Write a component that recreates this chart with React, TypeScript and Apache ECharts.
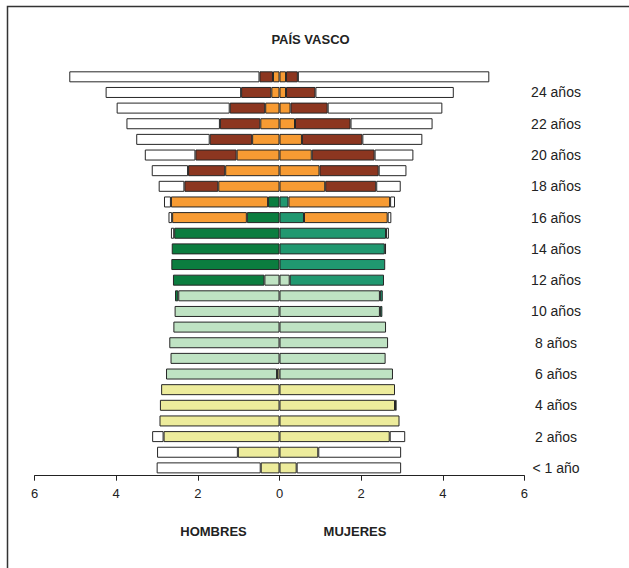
import React, { useEffect, useRef } from "react";
import * as echarts from "echarts";

const ages = [
  "< 1 año", "1 año", "2 años", "3 años", "4 años", "5 años", "6 años", "7 años", "8 años", "9 años",
  "10 años", "11 años", "12 años", "13 años", "14 años", "15 años", "16 años", "17 años", "18 años", "19 años",
  "20 años", "21 años", "22 años", "23 años", "24 años", "25 años",
];

const xTicks = [-6, -4, -2, 0, 2, 4, 6];

// HOMBRES (left side), values by age 0..25
const hYellow = [0.46, 1.02, 2.84, 2.94, 2.93, 2.9, 0.06, 0, 0, 0, 0, 0, 0, 0, 0, 0, 0, 0, 0, 0, 0, 0, 0, 0, 0, 0];
const hLightGreen = [0, 0, 0, 0, 0, 0, 2.72, 2.67, 2.7, 2.6, 2.57, 2.48, 0.37, 0, 0, 0, 0, 0, 0, 0, 0, 0, 0, 0, 0, 0];
const hDarkGreen = [0, 0, 0, 0, 0, 0, 0, 0, 0, 0, 0, 0.08, 2.24, 2.65, 2.64, 2.58, 0.8, 0.28, 0, 0, 0, 0, 0, 0, 0, 0];
const hOrange = [0, 0, 0, 0, 0, 0, 0, 0, 0, 0, 0, 0, 0, 0, 0, 0, 1.83, 2.38, 1.5, 1.33, 1.05, 0.67, 0.47, 0.35, 0.2, 0.16];
const hBrown = [0, 0, 0, 0, 0, 0, 0, 0, 0, 0, 0, 0, 0, 0, 0, 0, 0, 0, 0.83, 0.91, 1.01, 1.04, 0.99, 0.87, 0.74, 0.33];
const hWhite = [2.55, 1.98, 0.28, 0, 0, 0, 0, 0, 0, 0, 0, 0, 0, 0, 0, 0.08, 0.09, 0.17, 0.63, 0.89, 1.24, 1.8, 2.29, 2.77, 3.32, 4.66];

// MUJERES (right side), values by age 0..25
const mYellow = [0.42, 0.95, 2.7, 2.94, 2.83, 2.83, 0, 0, 0, 0, 0, 0, 0, 0, 0, 0, 0, 0, 0, 0, 0, 0, 0, 0, 0, 0];
const mLightGreen = [0, 0, 0, 0, 0.04, 0, 2.78, 2.6, 2.66, 2.61, 2.46, 2.46, 0.25, 0, 0, 0, 0, 0, 0, 0, 0, 0, 0, 0, 0, 0];
const mDarkGreen = [0, 0, 0, 0, 0, 0, 0, 0, 0, 0, 0.06, 0.07, 2.31, 2.59, 2.58, 2.61, 0.6, 0.22, 0, 0, 0, 0, 0, 0, 0, 0];
const mOrange = [0, 0, 0, 0, 0, 0, 0, 0, 0, 0, 0, 0, 0, 0, 0.03, 0, 2.05, 2.49, 1.12, 0.98, 0.79, 0.55, 0.38, 0.27, 0.16, 0.16];
const mBrown = [0, 0, 0, 0, 0, 0, 0, 0, 0, 0, 0, 0, 0, 0, 0, 0, 0, 0, 1.25, 1.45, 1.54, 1.48, 1.36, 0.91, 0.72, 0.29];
const mWhite = [2.56, 2.03, 0.38, 0, 0, 0, 0, 0, 0, 0, 0, 0, 0, 0, 0, 0.07, 0.09, 0.12, 0.6, 0.68, 0.95, 1.47, 2.01, 2.81, 3.39, 4.69];

const FONT = "'Liberation Sans', Arial, Helvetica, sans-serif";

function toSeries(name: string, values: number[], sign: number, color: string) {
  return {
    name,
    type: "bar",
    stack: "total",
    barWidth: 11,
    data: values.map((v) => (v === 0 ? "-" : sign * v)),
    itemStyle: { color, borderColor: "#262626", borderWidth: 1 },
    emphasis: { disabled: true },
  };
}

export default function App() {
  const ref = useRef<HTMLDivElement>(null);

  useEffect(() => {
    if (!ref.current) return;
    const chart = echarts.init(ref.current, undefined, { renderer: "svg" });
    const series = [
      toSeries("H Infantil", hYellow, -1, "#EDEC9C"),
      toSeries("H Primaria", hLightGreen, -1, "#BFE3C3"),
      toSeries("H ESO", hDarkGreen, -1, "#0B7D3F"),
      toSeries("H Secundaria", hOrange, -1, "#F79B33"),
      toSeries("H Universidad", hBrown, -1, "#8C3620"),
      toSeries("H No escolarizado", hWhite, -1, "#FFFFFF"),
      toSeries("M Infantil", mYellow, 1, "#EDEC9C"),
      toSeries("M Primaria", mLightGreen, 1, "#BFE3C3"),
      toSeries("M ESO", mDarkGreen, 1, "#209870"),
      toSeries("M Secundaria", mOrange, 1, "#F79B33"),
      toSeries("M Universidad", mBrown, 1, "#8C3620"),
      toSeries("M No escolarizado", mWhite, 1, "#FFFFFF"),
    ];
    chart.setOption({
      animation: false,
      backgroundColor: "#ffffff",
      grid: { left: 34.6, right: 104.6, top: 69, bottom: 92.3, containLabel: false },
      xAxis: {
        type: "value",
        min: xTicks[0],
        max: xTicks[xTicks.length - 1],
        interval: 2,
        axisLine: { show: true, lineStyle: { color: "#222", width: 1 } },
        axisTick: { show: true, length: 5, lineStyle: { color: "#222" } },
        splitLine: { show: false },
        axisLabel: {
          margin: 11,
          color: "#222",
          fontSize: 13,
          fontFamily: FONT,
          formatter: (v: number) => String(Math.abs(v)),
        },
      },
      yAxis: {
        type: "category",
        position: "right",
        data: ages,
        axisLine: { show: false },
        axisTick: { show: false },
        splitLine: { show: false },
        axisLabel: {
          interval: (idx: number) => idx % 2 === 0,
          align: "center",
          margin: 31.6,
          color: "#222",
          fontSize: 14,
          fontFamily: FONT,
        },
      },
      series,
      graphic: [
        {
          type: "rect",
          shape: { x: 7.5, y: 6.5, width: 800, height: 800 },
          style: { fill: "none", stroke: "#333", lineWidth: 1.5 },
          silent: true,
        },
        {
          type: "text",
          x: 310.5,
          y: 39.5,
          style: {
            text: "PAÍS VASCO",
            fill: "#222",
            font: `bold 13px ${FONT}`,
            textAlign: "center",
            textVerticalAlign: "middle",
          },
        },
        {
          type: "text",
          x: 213.5,
          y: 531.7,
          style: {
            text: "HOMBRES",
            fill: "#222",
            font: `bold 13px ${FONT}`,
            textAlign: "center",
            textVerticalAlign: "middle",
          },
        },
        {
          type: "text",
          x: 355,
          y: 531.7,
          style: {
            text: "MUJERES",
            fill: "#222",
            font: `bold 13px ${FONT}`,
            textAlign: "center",
            textVerticalAlign: "middle",
          },
        },
      ],
    });
    return () => chart.dispose();
  }, []);

  return (
    <div
      ref={ref}
      style={{ position: "absolute", left: 0, top: 0, width: 629, height: 568 }}
    />
  );
}
